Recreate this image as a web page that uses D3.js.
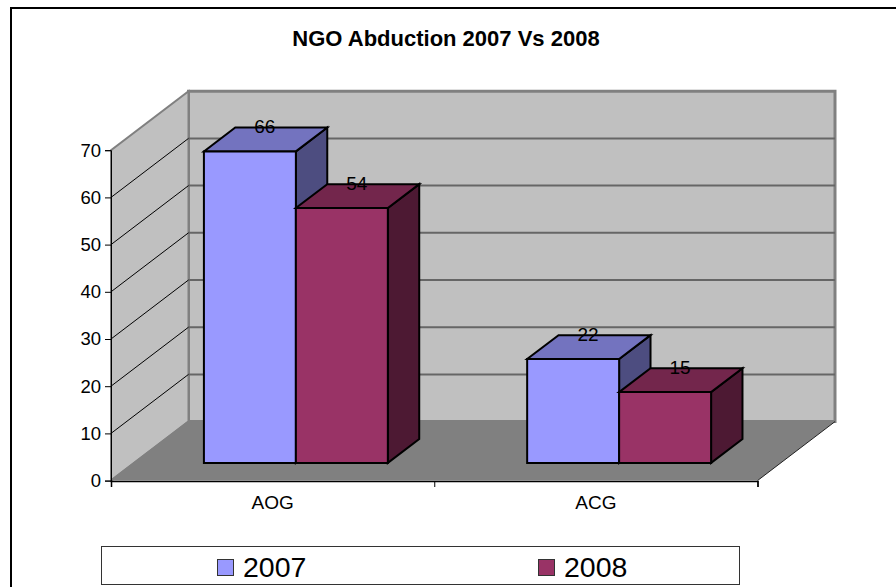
<!DOCTYPE html>
<html><head><meta charset="utf-8">
<script src="https://cdn.jsdelivr.net/npm/d3@7"></script>
<style>html,body{margin:0;padding:0;background:#fff}svg{display:block}text{font-family:"Liberation Sans",Arial,sans-serif;fill:#000}</style>
</head><body><div id="c"></div>
<script>
const categories = ["AOG","ACG"];
const seriesNames = ["2007","2008"];
const values2007 = [66,22];
const values2008 = [54,15];
const yTicks = [0,10,20,30,40,50,60,70];
const chartTitle = "NGO Abduction 2007 Vs 2008";
const faceColors = ["#9999FF","#993366"];
const topColors = ["#7373BF","#73264C"];
const sideColors = ["#4D4D80","#4D1933"];

const W=896,H=587;
const svg=d3.select("#c").append("svg").attr("width",W).attr("height",H);
const xL=111,xR=757.5;
const y=d3.scaleLinear().domain([0,70]).range([480.6,150.2]);
const x0=d3.scaleBand().domain(categories).range([xL,xR]).paddingInner(0.431).paddingOuter(0.2155);
const x1=d3.scaleBand().domain(seriesNames).range([0,x0.bandwidth()]);
const edges=d3.scaleLinear().domain([0,2]).range([xL,xR]);
const DX=77.5,DY=-59, T0=0.30, T1=0.705;
const P=(x,v,t)=>[x+DX*t,y(v)+DY*t];
const poly=(pts,fill,stroke,sw)=>svg.append("polygon").attr("points",pts.map(p=>p.join(",")).join(" "))
  .attr("fill",fill).attr("stroke",stroke||"none").attr("stroke-width",sw||0).attr("stroke-linejoin","miter");

// frame
svg.append("path").attr("d",`M11,${H}V8H${W}`).attr("fill","none").attr("stroke","#000").attr("stroke-width",2);

svg.append("text").attr("x",446).attr("y",46).attr("text-anchor","middle")
  .attr("font-size",22).attr("font-weight","bold").text(chartTitle);

// walls & floor
poly([P(xL,0,1),P(xR,0,1),P(xR,70,1),P(xL,70,1)],"#C0C0C0","#808080",3);
poly([P(xL,0,0),P(xL,0,1),P(xL,70,1),P(xL,70,0)],"#C0C0C0","#808080",2);
poly([P(xL,0,0),P(xR,0,0),P(xR,0,1),P(xL,0,1)],"#808080");
svg.append("line").attr("x1",P(xR,0,0)[0]).attr("y1",P(xR,0,0)[1]).attr("x2",P(xR,0,1)[0]).attr("y2",P(xR,0,1)[1]).attr("stroke","#222").attr("stroke-width",1);
svg.append("line").attr("x1",P(xL,0,0)[0]).attr("y1",P(xL,0,0)[1]).attr("x2",P(xL,0,1)[0]).attr("y2",P(xL,0,1)[1]).attr("stroke","#808080").attr("stroke-width",2);

// gridlines
yTicks.filter(v=>v>0&&v<70).forEach(v=>{
  const a=P(xL,v,0),b=P(xL,v,1),c=P(xR,v,1);
  svg.append("line").attr("x1",b[0]).attr("y1",b[1]).attr("x2",c[0]).attr("y2",c[1]).attr("stroke","#666").attr("stroke-width",2);
  svg.append("line").attr("x1",a[0]).attr("y1",a[1]).attr("x2",b[0]).attr("y2",b[1]).attr("stroke","#000").attr("stroke-width",1);
});

// bars
const labels=[];
categories.forEach((cat,ci)=>{
  seriesNames.forEach((s,si)=>{
    const v=(si===0?values2007:values2008)[ci];
    const xa=x0(cat)+x1(s), xb=xa+x1.bandwidth();
    const sw=2,st="#000";
    poly([P(xb,0,T0),P(xb,0,T1),P(xb,v,T1),P(xb,v,T0)],sideColors[si],st,sw);
    poly([P(xa,v,T0),P(xb,v,T0),P(xb,v,T1),P(xa,v,T1)],topColors[si],st,sw);
    poly([P(xa,0,T0),P(xb,0,T0),P(xb,v,T0),P(xa,v,T0)],faceColors[si],st,sw);
    const p=P((xa+xb)/2,v,T1);
    labels.push({v,x:p[0]-16.5,y:p[1]+6});
  });
});
labels.forEach(l=>svg.append("text").attr("x",l.x).attr("y",l.y).attr("text-anchor","middle").attr("font-size",19).text(l.v));

// axes
const axY=svg.append("g").attr("transform","translate(111,0)").call(d3.axisLeft(y).tickValues(yTicks).tickSize(6).tickPadding(4));
axY.selectAll("path").attr("stroke","#000").attr("stroke-width",1);
axY.selectAll("text").attr("font-size",18.5).style("font-family",'"Liberation Sans"');
const axE=svg.append("g").attr("transform","translate(0,481)").call(d3.axisBottom(edges).tickValues([0,1,2]).tickSize(6).tickFormat(""));
axE.select("path").attr("stroke","#000").attr("stroke-width",1.5);
const axC=svg.append("g").attr("transform","translate(0,481)").call(d3.axisBottom(x0).tickSize(0).tickPadding(15));
axC.select("path").remove();
axC.selectAll("text").attr("font-size",19).style("font-family",'"Liberation Sans"');

// legend
svg.append("rect").attr("x",101.5).attr("y",546.5).attr("width",638).attr("height",38).attr("fill","#fff").attr("stroke","#333").attr("stroke-width",1);
const legendX=d3.scaleOrdinal().domain(seriesNames).range([217,538]);
seriesNames.forEach((s,i)=>{
  const lx=legendX(s);
  svg.append("rect").attr("x",lx+.5).attr("y",559.5).attr("width",16).attr("height",16).attr("fill",faceColors[i]).attr("stroke","#333").attr("stroke-width",1);
  svg.append("text").attr("x",lx+26).attr("y",576.5).attr("font-size",28.5).text(s);
});
</script></body></html>
